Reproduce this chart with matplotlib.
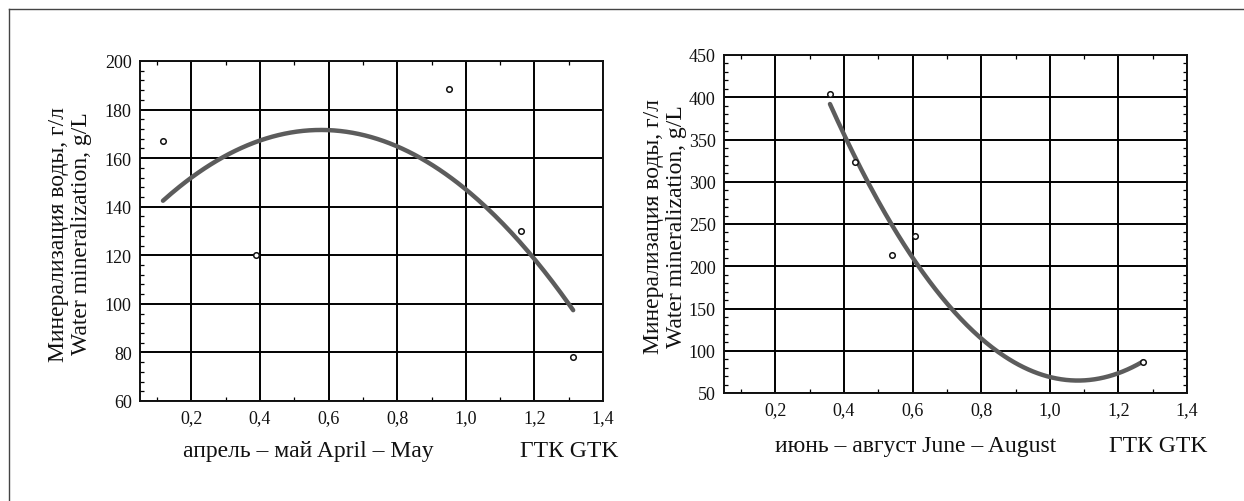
"""
Water mineralization vs. GTK (hydrothermal coefficient), two seasons,
with a least-squares quadratic trend through each scatter.
Writes out.png (1244x502).
"""

import numpy as np
import matplotlib.pyplot as plt
from matplotlib.lines import Line2D
from matplotlib.ticker import FuncFormatter, MultipleLocator

plt.rcParams["font.family"] = ["Liberation Serif", "DejaVu Serif"]

# ── Data ──────────────────────────────────────────────────────────────────────
SPRING_GTK = [0.117, 0.388, 0.952, 1.161, 1.313]
SPRING_MIN = [167.0, 120.0, 188.5, 130.0, 78.3]

SUMMER_GTK = [0.359, 0.431, 0.540, 0.608, 1.272]
SUMMER_MIN = [404.4, 322.8, 213.6, 236.1, 86.5]

X_TICKS = [0.2, 0.4, 0.6, 0.8, 1.0, 1.2, 1.4]
SPRING_Y_TICKS = [60, 80, 100, 120, 140, 160, 180, 200]
SUMMER_Y_TICKS = [50, 100, 150, 200, 250, 300, 350, 400, 450]

Y_LABEL = "Минерализация воды, г/л\nWater mineralization, g/L"
SPRING_LABEL = "апрель – май April – May"
SUMMER_LABEL = "июнь – август June – August"
GTK_LABEL = "ГТК GTK"

# ── Style ─────────────────────────────────────────────────────────────────────
W, H = 1244, 502
CURVE_COLOR = "#5c5c5c"
TICK_FS = 13
LABEL_FS = 17


def comma_fmt(x, _):
    return f"{x:.1f}".replace(".", ",")


def px_axes(fig, x0, y0, x1, y1):
    return fig.add_axes([x0 / W, 1 - y1 / H, (x1 - x0) / W, (y1 - y0) / H])


def px_text(fig, x, y, s, **kw):
    return fig.text(x / W, 1 - y / H, s, fontsize=LABEL_FS, color="#111111", **kw)


def draw_panel(ax, gx, gy, yticks, ystep_minor, right_minor):
    ax.set_xlim(0.05, 1.4)
    ax.set_ylim(yticks[0], yticks[-1])
    ax.set_xticks(X_TICKS)
    ax.set_yticks(yticks)
    ax.xaxis.set_major_formatter(FuncFormatter(comma_fmt))
    ax.xaxis.set_minor_locator(MultipleLocator(0.1))
    ax.yaxis.set_minor_locator(MultipleLocator(ystep_minor))
    ax.tick_params(which="major", length=0, labelsize=TICK_FS, pad=6, colors="#111111")
    ax.tick_params(which="minor", direction="in", length=3, width=0.9,
                   top=True, bottom=True, left=True, right=right_minor)
    ax.grid(True, which="major", color="black", linewidth=1.4)
    for sp in ax.spines.values():
        sp.set_color("#111111")
        sp.set_linewidth(1.4)

    # least-squares quadratic trend through the points
    coef = np.polyfit(gx, gy, 2)
    xs = np.linspace(min(gx), max(gx), 200)
    ax.plot(xs, np.polyval(coef, xs), color=CURVE_COLOR, linewidth=3.2,
            solid_capstyle="round", zorder=3)
    ax.plot(gx, gy, linestyle="none", marker="o", markersize=4,
            markerfacecolor="white", markeredgecolor="#111111",
            markeredgewidth=1.1, zorder=4)


def main() -> None:
    fig = plt.figure(figsize=(W / 100, H / 100), dpi=100)

    ax_l = px_axes(fig, 140, 62, 603, 402)
    draw_panel(ax_l, SPRING_GTK, SPRING_MIN, SPRING_Y_TICKS, 4, False)

    ax_r = px_axes(fig, 724, 56, 1187, 394)
    draw_panel(ax_r, SUMMER_GTK, SUMMER_MIN, SUMMER_Y_TICKS, 10, True)

    # y labels (two lines, rotated)
    px_text(fig, 70, 234, Y_LABEL, rotation=90, ha="center", va="center",
            multialignment="center", linespacing=1.12)
    px_text(fig, 665, 227, Y_LABEL, rotation=90, ha="center", va="center",
            multialignment="center", linespacing=1.12)

    # x labels
    px_text(fig, 308, 457, SPRING_LABEL, ha="center", va="baseline")
    px_text(fig, 520, 457, GTK_LABEL, ha="left", va="baseline")
    px_text(fig, 916, 452, SUMMER_LABEL, ha="center", va="baseline")
    px_text(fig, 1109, 452, GTK_LABEL, ha="left", va="baseline")

    # outer frame (top and left edges visible in the reference)
    fig.add_artist(Line2D([9 / W, 9 / W], [0, 1 - 10 / H], color="#444444", linewidth=1))
    fig.add_artist(Line2D([9 / W, 1], [1 - 10 / H, 1 - 10 / H], color="#444444", linewidth=1))

    fig.savefig("out.png", dpi=100, facecolor="white")


if __name__ == "__main__":
    main()
